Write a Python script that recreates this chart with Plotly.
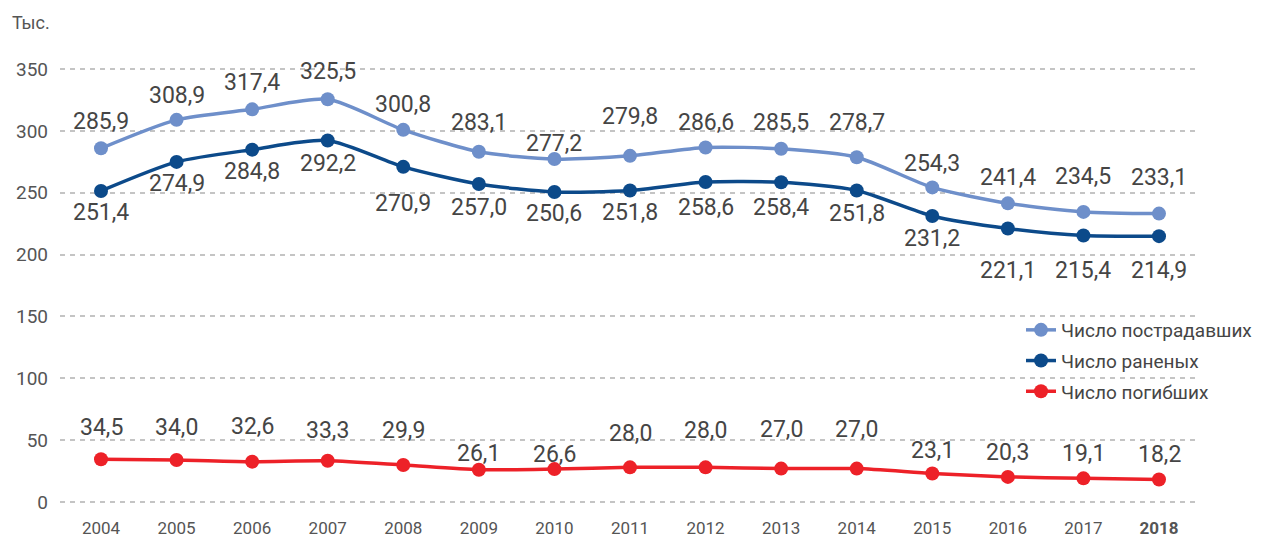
import plotly.graph_objects as go

years = [2004, 2005, 2006, 2007, 2008, 2009, 2010, 2011, 2012, 2013, 2014, 2015, 2016, 2017, 2018]
year_labels = [str(y) for y in years[:-1]] + ["<b>2018</b>"]

victims = [285.9, 308.9, 317.4, 325.5, 300.8, 283.1, 277.2, 279.8, 286.6, 285.5, 278.7, 254.3, 241.4, 234.5, 233.1]
injured = [251.4, 274.9, 284.8, 292.2, 270.9, 257.0, 250.6, 251.8, 258.6, 258.4, 251.8, 231.2, 221.1, 215.4, 214.9]
killed = [34.5, 34.0, 32.6, 33.3, 29.9, 26.1, 26.6, 28.0, 28.0, 27.0, 27.0, 23.1, 20.3, 19.1, 18.2]

names = ["Число пострадавших", "Число раненых", "Число погибших"]
colors = ["#6e8fca", "#0c4a8a", "#ed2128"]

# label offsets in pixels (positive = above the point)
victims_shift = [27, 24, 27, 28, 25, 29, 16, 39, 25, 26, 35, 24, 26, 35, 36]
injured_shift = [-22, -22, -22, -23, -37, -23, -22, -22, -25, -25, -23, -23, -42, -35, -34]
killed_shift = [32, 32, 35, 30, 35, 16, 15, 34, 37, 39, 39, 23, 24, 25, 25]

FONT = "Roboto, 'DejaVu Sans', sans-serif"


def fmt(v):
    return f"{v:.1f}".replace(".", ",")


fig = go.Figure()
for vals, name, col in zip([victims, injured, killed], names, colors):
    fig.add_trace(go.Scatter(
        x=years, y=vals, name=name, mode="lines+markers", legendgroup=name,
        line=dict(color=col, width=3.5, shape="spline", smoothing=0.7),
        marker=dict(color=col, size=14),
    ))

annotations = []
for vals, shifts in zip([victims, injured, killed], [victims_shift, injured_shift, killed_shift]):
    for x, v, s in zip(years, vals, shifts):
        annotations.append(dict(
            x=x, y=v, xref="x", yref="y", text=fmt(v), showarrow=False,
            yshift=s, font=dict(family=FONT, size=23, color="#454545"),
        ))

annotations.append(dict(
    x=-0.0439, y=1.084, xref="paper", yref="paper", xanchor="left", yanchor="middle",
    text="Тыс.", showarrow=False, font=dict(family=FONT, size=18, color="#555555"),
))

fig.update_layout(
    width=1268, height=537,
    margin=dict(l=52, r=76, t=52, b=33),
    plot_bgcolor="white", paper_bgcolor="white",
    font=dict(family=FONT, color="#555555"),
    showlegend=True,
    legend=dict(
        x=0.843, y=0.4447, xanchor="left", yanchor="top",
        font=dict(family=FONT, size=19, color="#454545"),
        bgcolor="rgba(0,0,0,0)", itemwidth=30, tracegroupgap=3,
    ),
    annotations=annotations,
)
fig.update_xaxes(
    range=[2003.4575, 2018.5425], tickvals=years, ticktext=year_labels,
    showgrid=False, zeroline=False, showline=False, ticks="", automargin=False,
    tickfont=dict(family=FONT, size=17, color="#555555"), ticklabelstandoff=4,
)
fig.update_yaxes(
    range=[-8.08, 357.27], tickvals=[0, 50, 100, 150, 200, 250, 300, 350],
    showgrid=True, gridcolor="#c4c4c4", gridwidth=2, griddash="5px,5px",
    zeroline=False, showline=False, ticks="", automargin=False,
    tickfont=dict(family=FONT, size=19, color="#555555"), ticklabelstandoff=11,
)

fig.write_html("out.html")
